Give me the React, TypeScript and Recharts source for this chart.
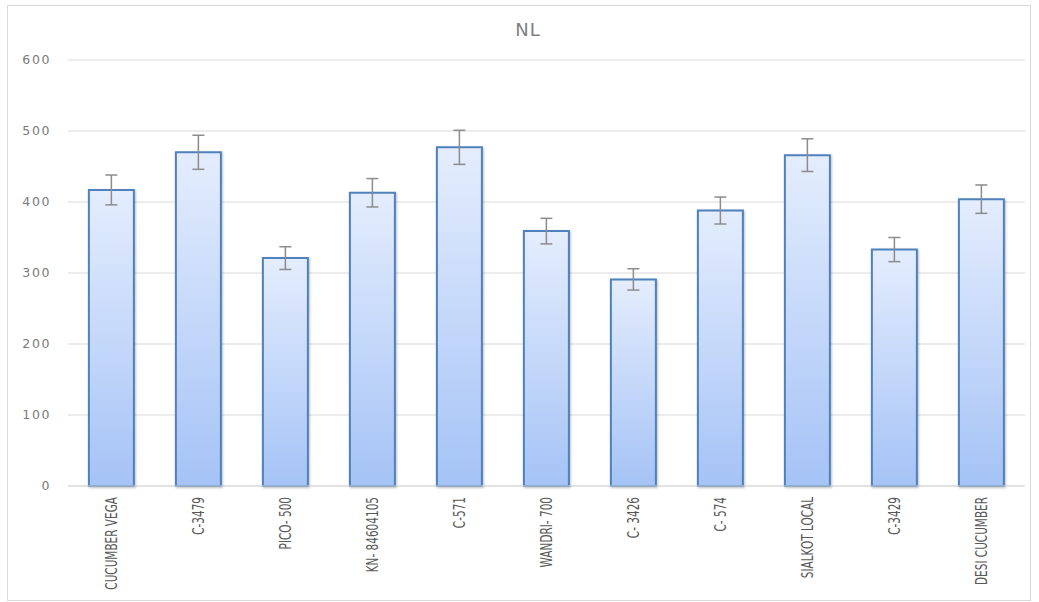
import {
  BarChart,
  Bar,
  XAxis,
  YAxis,
  CartesianGrid,
  ErrorBar,
} from "recharts";

const categories = [
  "CUCUMBER VEGA",
  "C-3479",
  "PICO- 500",
  "KN- 84604105",
  "C-571",
  "WANDRI- 700",
  "C- 3426",
  "C- 574",
  "SIALKOT LOCAL",
  "C-3429",
  "DESI CUCUMBER",
];
const nlValues = [417, 470, 321, 413, 477, 359, 291, 388, 466, 333, 404];
const nlErrors = [21, 24, 16, 20, 24, 18, 15, 19, 23, 17, 20];
const yTicks = [0, 100, 200, 300, 400, 500, 600];

const data = categories.map((name, i) => ({
  name,
  nl: nlValues[i],
  err: nlErrors[i],
}));

// Excel draws these in a narrow face; squeeze DejaVu along the text direction
const CategoryTick = (props: any) => {
  const { x, y, payload } = props;
  return (
    <text
      transform={`translate(${x},${y + 3}) rotate(-90) scale(0.7,1)`}
      textAnchor="end"
      dy="0.36em"
      fill="#595959"
      fontSize={15}
      fontFamily="'DejaVu Sans', sans-serif"
    >
      {payload.value}
    </text>
  );
};

export default function App() {
  return (
    <div
      style={{
        position: "fixed",
        left: 0,
        top: 0,
        width: 1039,
        height: 602,
        background: "#fff",
      }}
    >
      <div
        style={{
          position: "absolute",
          left: 7,
          top: 5,
          width: 1022,
          height: 594,
          border: "1px solid #d9d9d9",
        }}
      />
      <div
        style={{
          position: "absolute",
          left: 428,
          width: 200,
          top: 19,
          textAlign: "center",
          fontFamily: "'DejaVu Sans', sans-serif",
          fontSize: 18,
          color: "#7f7f7f",
          letterSpacing: 1,
        }}
      >
        NL
      </div>
      <div style={{ position: "absolute", left: 0, top: 0 }}>
        <BarChart
          width={1039}
          height={602}
          data={data}
          margin={{ top: 60, right: 14, bottom: 6, left: 8 }}
          barCategoryGap="24%"
        >
          <defs>
            <linearGradient id="barFill" x1="0" y1="0" x2="0" y2="1">
              <stop offset="0%" stopColor="#e4edfd" />
              <stop offset="100%" stopColor="#a5c3f6" />
            </linearGradient>
            <filter id="barShadow" x="-10%" y="-10%" width="130%" height="130%">
              <feDropShadow dx="1" dy="1" stdDeviation="1.2" floodColor="#000" floodOpacity="0.25" />
            </filter>
          </defs>
          <CartesianGrid vertical={false} stroke="#d9d9d9" />
          <XAxis
            dataKey="name"
            interval={0}
            height={110}
            tick={<CategoryTick />}
            tickLine={false}
            axisLine={{ stroke: "#d9d9d9" }}
          />
          <YAxis
            width={60}
            domain={[0, 600]}
            ticks={yTicks}
            tickLine={false}
            axisLine={false}
            tickSize={0}
            tickMargin={17}
            tick={{
              fill: "#7a7a7a",
              fontSize: 12.5,
              fontFamily: "'DejaVu Sans', sans-serif",
              letterSpacing: 1.6,
            }}
          />
          <Bar
            dataKey="nl"
            fill="url(#barFill)"
            stroke="#4f81bd"
            strokeWidth={2}
            filter="url(#barShadow)"
            isAnimationActive={false}
          >
            <ErrorBar
              dataKey="err"
              width={6}
              stroke="#8c8c8c"
              strokeWidth={1.5}
              direction="y"
            />
          </Bar>
        </BarChart>
      </div>
    </div>
  );
}
